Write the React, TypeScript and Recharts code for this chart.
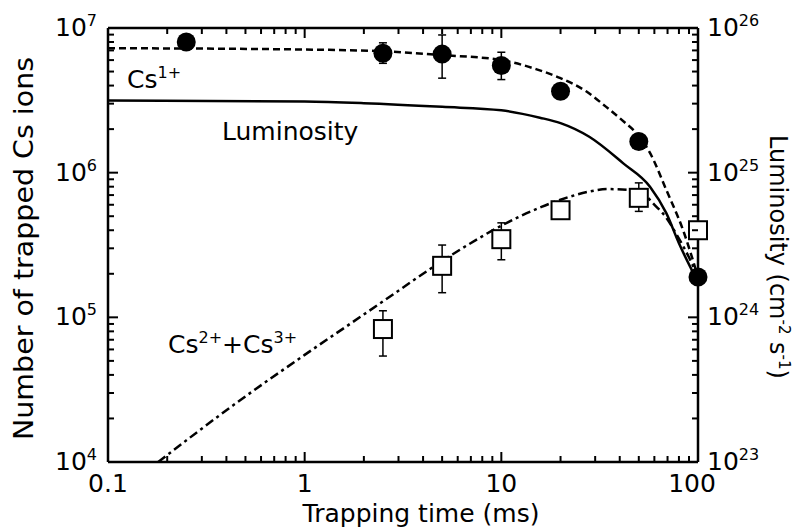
import React from 'react';
import { ComposedChart, XAxis, YAxis, Line, Scatter, ErrorBar, ReferenceLine } from 'recharts';

// trapping time (ms) ticks, log axis
const xTicks = [
  0.1, 0.2, 0.3, 0.4, 0.5, 0.6, 0.7, 0.8, 0.9,
  1, 2, 3, 4, 5, 6, 7, 8, 9,
  10, 20, 30, 40, 50, 60, 70, 80, 90, 100,
];
const ionTicks = [
  1e4, 2e4, 3e4, 4e4, 5e4, 6e4, 7e4, 8e4, 9e4,
  1e5, 2e5, 3e5, 4e5, 5e5, 6e5, 7e5, 8e5, 9e5,
  1e6, 2e6, 3e6, 4e6, 5e6, 6e6, 7e6, 8e6, 9e6, 1e7,
];
const lumTicks = [
  1e23, 2e23, 3e23, 4e23, 5e23, 6e23, 7e23, 8e23, 9e23,
  1e24, 2e24, 3e24, 4e24, 5e24, 6e24, 7e24, 8e24, 9e24,
  1e25, 2e25, 3e25, 4e25, 5e25, 6e25, 7e25, 8e25, 9e25, 1e26,
];

// Cs1+ measured
const cs1Time = [0.25, 2.5, 5, 10, 20, 50, 100];
const cs1Ions = [8.0e6, 6.7e6, 6.6e6, 5.5e6, 3.65e6, 1.64e6, 1.9e5];
const cs1Low = [8.0e6, 5.7e6, 4.5e6, 4.4e6, 3.65e6, 1.64e6, 1.9e5];
const cs1High = [8.0e6, 7.9e6, 8.95e6, 6.8e6, 3.65e6, 1.64e6, 1.9e5];

// Cs2+ + Cs3+ measured
const cs23Time = [2.5, 5, 10, 20, 50, 100];
const cs23Ions = [8.3e4, 2.27e5, 3.47e5, 5.5e5, 6.7e5, 4.0e5];
const cs23Low = [5.4e4, 1.48e5, 2.5e5, 5.5e5, 5.4e5, 4.0e5];
const cs23High = [1.11e5, 3.16e5, 4.5e5, 5.5e5, 8.5e5, 4.0e5];

// calculated curves
const cs1FitTime = [0.1, 1, 2.5, 5, 10, 15, 20, 27, 34, 43, 47, 57, 69, 84, 100];
const cs1FitIons = [7.25e6, 7.1e6, 6.9e6, 6.5e6, 6.0e6, 5.2e6, 4.5e6, 3.65e6, 2.86e6, 2.19e6, 1.97e6, 1.37e6, 7.6e5, 4.0e5, 1.9e5];

const lumTime = [0.1, 1, 2, 5, 10, 15.7, 20, 28, 41.7, 57, 69, 80, 100];
const lumValues = [3.15e25, 3.1e25, 3.02e25, 2.85e25, 2.7e25, 2.4e25, 2.2e25, 1.77e25, 1.16e25, 8.0e24, 5.25e24, 3.25e24, 1.75e24];

const cs23FitTime = [0.18, 0.43, 1, 1.7, 2.4, 5, 6.2, 10, 16, 20, 28, 35, 45, 52, 61.5, 66.5, 80, 90, 100];
const cs23FitIons = [1.0e4, 2.45e4, 5.5e4, 9.0e4, 1.24e5, 2.45e5, 2.95e5, 4.3e5, 5.8e5, 6.5e5, 7.4e5, 7.7e5, 7.6e5, 7.2e5, 5.8e5, 5.2e5, 3.5e5, 2.6e5, 1.9e5];

const cs1Points = cs1Time.map((t, i) => ({
  t,
  n: cs1Ions[i],
  err: [cs1Ions[i] - cs1Low[i], cs1High[i] - cs1Ions[i]],
}));
const cs23Points = cs23Time.map((t, i) => ({
  t,
  n: cs23Ions[i],
  err: [cs23Ions[i] - cs23Low[i], cs23High[i] - cs23Ions[i]],
}));
const cs1Fit = cs1FitTime.map((t, i) => ({ t, n: cs1FitIons[i] }));
const lumFit = lumTime.map((t, i) => ({ t, lum: lumValues[i] }));
const cs23Fit = cs23FitTime.map((t, i) => ({ t, n: cs23FitIons[i] }));

const FONT = '"DejaVu Sans", Verdana, sans-serif';
const MAJOR = 10;
const MINOR = 6;
const TICK_W = 2;
const TOP = 28;
const PLOT_H = 434; // plot height: bottom ticks are mirrored onto the top frame

const isDecade = (v: number) => Math.abs(Math.log10(v) - Math.round(Math.log10(v))) < 1e-6;

const Power = ({ x, y, v, anchor }: any) => (
  <text x={x} y={y} textAnchor={anchor} fontFamily={FONT} fontSize={25} fill="#000">
    10<tspan dy={-10} fontSize={16}>{Math.round(Math.log10(v))}</tspan>
  </text>
);

const LeftTick = ({ x, y, payload }: any) => {
  const major = isDecade(payload.value);
  return (
    <g>
      <line x1={x} x2={x + (major ? MAJOR : MINOR)} y1={y} y2={y} stroke="#000" strokeWidth={TICK_W} />
      {major && <Power x={x - 11} y={y + 8} v={payload.value} anchor="end" />}
    </g>
  );
};

const RightTick = ({ x, y, payload }: any) => {
  const major = isDecade(payload.value);
  return (
    <g>
      <line x1={x} x2={x - (major ? MAJOR : MINOR)} y1={y} y2={y} stroke="#000" strokeWidth={TICK_W} />
      {major && <Power x={x + 9} y={y + 8} v={payload.value} anchor="start" />}
    </g>
  );
};

const BottomTick = ({ x, y, payload }: any) => {
  const major = isDecade(payload.value);
  const len = major ? MAJOR : MINOR;
  const lx = payload.value === 100 ? x - 6 : x;
  return (
    <g>
      <line x1={x} x2={x} y1={y} y2={y - len} stroke="#000" strokeWidth={TICK_W} />
      <line x1={x} x2={x} y1={y - PLOT_H} y2={y - PLOT_H + len} stroke="#000" strokeWidth={TICK_W} />
      {major && (
        <text x={lx} y={y + 30} textAnchor="middle" fontFamily={FONT} fontSize={25} fill="#000">
          {String(payload.value)}
        </text>
      )}
    </g>
  );
};

const Dot = ({ cx, cy }: any) => <circle cx={cx} cy={cy} r={9.5} fill="#000" />;
const Box = ({ cx, cy }: any) => (
  <rect x={cx - 9} y={cy - 9} width={18} height={18} fill="#fff" stroke="#000" strokeWidth={2} />
);

const axisLine = { stroke: '#000', strokeWidth: 2.5 };

const App = () => {
  return (
    <div style={{ position: 'absolute', left: 0, top: 0, width: 802, height: 532, background: '#fff' }}>
      <svg
        width={802}
        height={532}
        style={{ position: 'absolute', left: 0, top: 0 }}
        fontFamily={FONT}
        fill="#000"
      >
        <text transform="translate(33,248.5) rotate(-90)" textAnchor="middle" fontSize={27} textLength={383} lengthAdjust="spacingAndGlyphs">
          Number of trapped Cs ions
        </text>
        <text transform="translate(770,257) rotate(90)" textAnchor="middle" fontSize={24}>
          Luminosity (cm<tspan dy={-9} fontSize={15}>-2</tspan>
          <tspan dy={9}> s</tspan>
          <tspan dy={-9} fontSize={15}>-1</tspan>
          <tspan dy={9}>)</tspan>
        </text>
        <text x={421} y={522} textAnchor="middle" fontSize={25}>
          Trapping time (ms)
        </text>
        <text x={127} y={88} fontSize={25}>
          Cs<tspan dy={-10} fontSize={16}>1+</tspan>
        </text>
        <text x={222} y={140} fontSize={25}>
          Luminosity
        </text>
        <text x={168} y={353} fontSize={25}>
          Cs<tspan dy={-10} fontSize={16}>2+</tspan>
          <tspan dy={10}>+Cs</tspan>
          <tspan dy={-10} fontSize={16}>3+</tspan>
        </text>
      </svg>
      <div style={{ position: 'absolute', left: 0, top: 0 }}>
        <ComposedChart width={802} height={532} margin={{ top: TOP, right: 0, bottom: 0, left: 0 }}>
          <XAxis
            dataKey="t"
            type="number"
            scale="log"
            domain={[0.1, 100]}
            ticks={xTicks}
            interval={0}
            height={70}
            tickSize={0}
            tickMargin={0}
            tickLine={false}
            axisLine={axisLine}
            tick={BottomTick}
          />
          <YAxis
            type="number"
            scale="log"
            domain={[1e4, 1e7]}
            ticks={ionTicks}
            interval={0}
            width={108}
            tickSize={0}
            tickMargin={0}
            tickLine={false}
            axisLine={axisLine}
            tick={LeftTick}
          />
          <YAxis
            yAxisId="lum"
            orientation="right"
            type="number"
            scale="log"
            domain={[1e23, 1e26]}
            ticks={lumTicks}
            interval={0}
            width={104}
            tickSize={0}
            tickMargin={0}
            tickLine={false}
            axisLine={axisLine}
            tick={RightTick}
          />
          <ReferenceLine y={9.999e6} stroke="#000" strokeWidth={2.5} ifOverflow="visible" />
          <Line
            data={lumFit}
            yAxisId="lum"
            dataKey="lum"
            type="monotone"
            stroke="#000"
            strokeWidth={2.5}
            dot={false}
            isAnimationActive={false}
          />
          <Line
            data={cs1Fit}
            dataKey="n"
            type="monotone"
            stroke="#000"
            strokeWidth={2.5}
            strokeDasharray="7 4"
            dot={false}
            isAnimationActive={false}
          />
          <Line
            data={cs23Fit}
            dataKey="n"
            type="monotone"
            stroke="#000"
            strokeWidth={2.5}
            strokeDasharray="9 4 3 4"
            dot={false}
            isAnimationActive={false}
          />
          <Scatter data={cs23Points} dataKey="n" shape={Box} isAnimationActive={false}>
            <ErrorBar dataKey="err" direction="y" width={4} stroke="#000" strokeWidth={1.5} />
          </Scatter>
          <Scatter data={cs1Points} dataKey="n" shape={Dot} isAnimationActive={false}>
            <ErrorBar dataKey="err" direction="y" width={4} stroke="#000" strokeWidth={1.5} />
          </Scatter>
        </ComposedChart>
      </div>
    </div>
  );
};

export default App;
